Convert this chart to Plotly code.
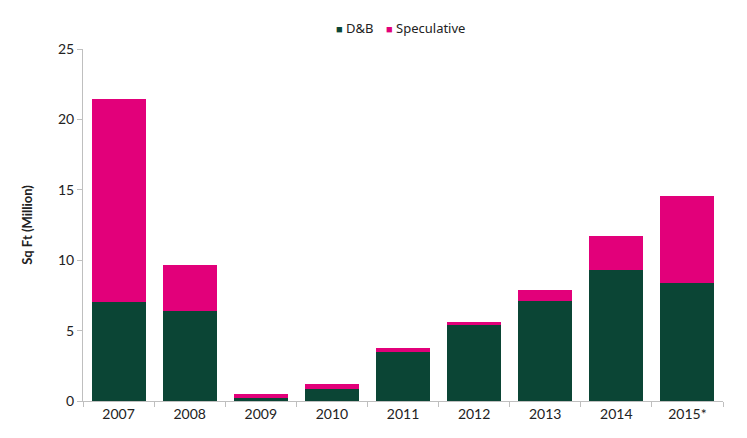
import plotly.graph_objects as go

years = ["2007", "2008", "2009", "2010", "2011", "2012", "2013", "2014", "2015*"]
dnb = [7.03, 6.41, 0.2, 0.84, 3.5, 5.43, 7.12, 9.27, 8.37]
speculative = [14.4, 3.25, 0.33, 0.38, 0.3, 0.19, 0.73, 2.48, 6.2]
series_names = ["D&B", "Speculative"]

GREEN = "#0B4535"
PINK = "#E2007A"
FONT = "Lato"

fig = go.Figure()
fig.add_trace(go.Bar(x=years, y=dnb, name=series_names[0], marker=dict(color=GREEN, line_width=0)))
fig.add_trace(go.Bar(x=years, y=speculative, name=series_names[1], marker=dict(color=PINK, line_width=0)))

# legend drawn as text (compact square markers like the reference)
legend_items = [(series_names[0], GREEN, 326), (series_names[1], PINK, 376)]
for name, color, px in legend_items:
    fig.add_annotation(
        text=f"<span style='color:{color};font-size:11px'>■</span> {name}",
        xref="paper", yref="paper", x=(px - 75) / 640, y=1 + 21 / 352,
        xanchor="left", yanchor="middle", showarrow=False,
        font=dict(family="Noto Sans", size=13, color="#222222"),
    )

fig.update_layout(
    barmode="stack",
    bargap=0.24,
    width=747,
    height=438,
    paper_bgcolor="white",
    plot_bgcolor="white",
    margin=dict(l=75, r=32, t=41, b=45, autoexpand=False),
    font=dict(family=FONT, size=13, color="#222222"),
    showlegend=False,
    xaxis=dict(type="category", showline=True, linecolor="#BFBFBF", linewidth=1,
               ticks="outside", tickson="boundaries", ticklen=5, tickcolor="#BFBFBF",
               showgrid=False, tickfont=dict(size=14), automargin=False),
    yaxis=dict(range=[0, 25], dtick=5, showline=True, linecolor="#BFBFBF", linewidth=1,
               ticks="outside", ticklen=5, tickcolor="#BFBFBF", showgrid=False, zeroline=False,
               tickfont=dict(size=14), automargin=False,
               title=dict(text="<b>Sq Ft (Million)</b>", font=dict(size=13), standoff=22)),
)

fig.write_html("out.html")
